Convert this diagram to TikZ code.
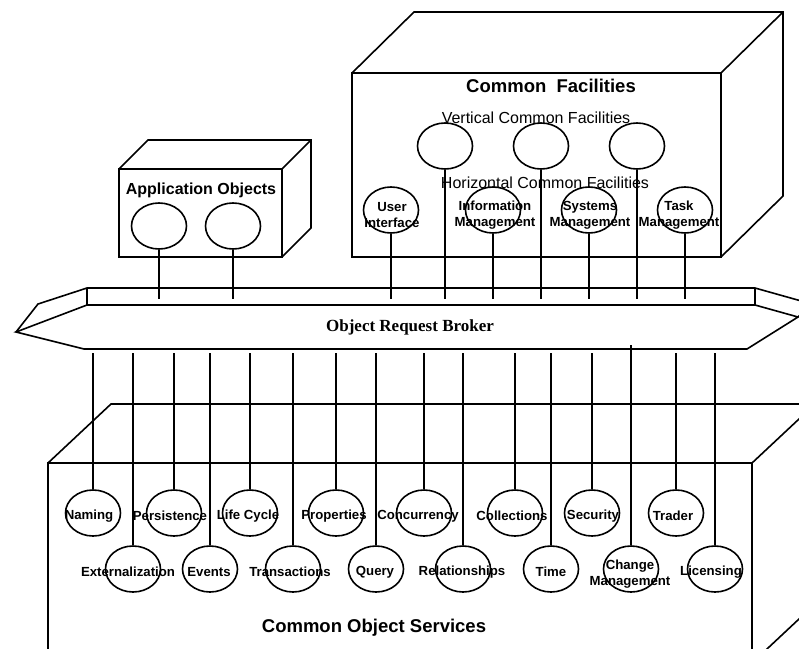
\documentclass[tikz,border=0pt]{standalone}
\usepackage{fontspec}
\setmainfont{Liberation Sans}
\newfontfamily\orbfont{Liberation Serif}
\usetikzlibrary{shapes, positioning, calc}

\begin{document}
\begin{tikzpicture}[x=1pt, y=-1pt]
	\tikzstyle{facebox}=[draw=black, line width=1.6, fill=none, inner sep=0, outer sep=0]
	\tikzstyle{obj}=[draw=black, ellipse, line width=1.6, minimum width=55, minimum height=46, inner sep=0]
	\tikzstyle{objtext}=[font=\fontsize{13.2}{16}\selectfont\bfseries, align=center, inner sep=0]
	\tikzstyle{title}=[font=\fontsize{18.5}{21}\selectfont\bfseries, inner sep=0]
	\tikzstyle{subtitle}=[font=\fontsize{16}{19}\selectfont, inner sep=0]
	\tikzstyle{wire}=[line width=1.6]

	\useasboundingbox (0,0) rectangle (799,648);
	\clip (0,0) rectangle (799,648);

	%% the three boxes
	\node (cf) at (536.5,165) [facebox, minimum width=369, minimum height=184] {};
	\draw [wire] (cf.north west) -- ++(62,-61) -- ++(369,0) -- ++(0,184) -- (cf.south east);
	\draw [wire] (cf.north east) -- ++(62,-61);

	\node (ao) at (200.5,213) [facebox, minimum width=163, minimum height=88] {};
	\draw [wire] (ao.north west) -- ++(29,-29) -- ++(163,0) -- ++(0,88) -- (ao.south east);
	\draw [wire] (ao.north east) -- ++(29,-29);

	\node (cos) at (400,563) [facebox, minimum width=704, minimum height=200] {};
	\draw [wire] (cos.north west) -- ++(63,-59) -- ++(704,0) -- ++(0,200) -- (cos.south east);
	\draw [wire] (cos.north east) -- ++(63,-59);

	%% the broker
	\draw [wire] (87,305) -- (755,305) -- (798,317) -- (747,349) -- (84,349) -- (16,332) -- cycle;
	\draw [wire] (16,332) -- (38,304) -- (87,288) -- (755,288) -- (812,304) -- (798,317);
	\draw [wire] (87,288) -- (87,305);
	\draw [wire] (755,288) -- (755,305);
	\node (orb) at (410,327) [font=\orbfont\fontsize{17}{20}\selectfont\bfseries] {Object Request Broker};
	\coordinate (orbtop) at (0,299);
	\coordinate (orbbot) at (0,353);
	\coordinate (orbmid) at (0,345);

	%% titles
	\node (cft) at (551,86) [title] {Common\ \ Facilities};
	\node (vcf) at (536,118) [subtitle] {Vertical Common Facilities};
	\node (hcf) at (545,183) [subtitle] {Horizontal Common Facilities};
	\node (aot) at (201,190) [title, font=\fontsize{16}{19}\selectfont\bfseries] {Application Objects};
	\node (cost) at (374,628) [title] {Common Object Services};

	%% application objects
	\node (ao1) at (159,226) [obj] {};
	\node (ao2) at (233,226) [obj] {};
	\draw [wire] (ao1.south) -- (ao1.south |- orbtop);
	\draw [wire] (ao2.south) -- (ao2.south |- orbtop);

	%% vertical facilities
	\node (v1) at (445,146) [obj] {};
	\node (v2) at (541,146) [obj] {};
	\node (v3) at (637,146) [obj] {};
	\draw [wire] (v1.south) -- (v1.south |- orbtop);
	\draw [wire] (v2.south) -- (v2.south |- orbtop);
	\draw [wire] (v3.south) -- (v3.south |- orbtop);

	%% horizontal facilities
	\node (ui) at (391,210) [obj] {};
	\node (im) at (493,210) [obj] {};
	\node (sm) at (589,210) [obj] {};
	\node (tm) at (685,210) [obj] {};
	\node (uit) at (ui) [objtext, xshift=1, yshift=-5] {User\\Interface};
	\node (imt) at (im) [objtext, xshift=2, yshift=-5] {Information\\Management};
	\node (smt) at (sm) [objtext, xshift=1, yshift=-5] {Systems\\Management};
	\node (tmt) at (tm) [objtext, xshift=-6, yshift=-5] {Task\\Management};
	\draw [wire] (ui.south) -- (ui.south |- orbtop);
	\draw [wire] (im.south) -- (im.south |- orbtop);
	\draw [wire] (sm.south) -- (sm.south |- orbtop);
	\draw [wire] (tm.south) -- (tm.south |- orbtop);

	%% object services, upper row
	\node (nam) at (93,513) [obj] {};
	\node (per) at (174,513) [obj] {};
	\node (lc) at (250,513) [obj] {};
	\node (prop) at (336,513) [obj] {};
	\node (conc) at (424,513) [obj] {};
	\node (coll) at (515,513) [obj] {};
	\node (sec) at (592,513) [obj] {};
	\node (tr) at (676,513) [obj] {};
	\node (namt) at (nam) [objtext, xshift=-4, yshift=-3] {Naming};
	\node (pert) at (per) [objtext, xshift=-4, yshift=-3] {Persistence};
	\node (lct) at (lc) [objtext, xshift=-2, yshift=-3] {Life Cycle};
	\node (propt) at (prop) [objtext, xshift=-2, yshift=-3] {Properties};
	\node (conct) at (conc) [objtext, xshift=-6, yshift=-3] {Concurrency};
	\node (collt) at (coll) [objtext, xshift=-3, yshift=-3] {Collections};
	\node (sect) at (sec) [objtext, xshift=1, yshift=-3] {Security};
	\node (trt) at (tr) [objtext, xshift=-3, yshift=-3] {Trader};
	\draw [wire] (nam.north) -- (nam.north |- orbbot);
	\draw [wire] (per.north) -- (per.north |- orbbot);
	\draw [wire] (lc.north) -- (lc.north |- orbbot);
	\draw [wire] (prop.north) -- (prop.north |- orbbot);
	\draw [wire] (conc.north) -- (conc.north |- orbbot);
	\draw [wire] (coll.north) -- (coll.north |- orbbot);
	\draw [wire] (sec.north) -- (sec.north |- orbbot);
	\draw [wire] (tr.north) -- (tr.north |- orbbot);

	%% object services, lower row
	\node (ext) at (133,569) [obj] {};
	\node (ev) at (210,569) [obj] {};
	\node (tra) at (293,569) [obj] {};
	\node (qry) at (376,569) [obj] {};
	\node (rel) at (463,569) [obj] {};
	\node (tim) at (551,569) [obj] {};
	\node (chg) at (631,569) [obj] {};
	\node (lic) at (715,569) [obj] {};
	\node (extt) at (ext) [objtext, xshift=-5, yshift=-3] {Externalization};
	\node (evt) at (ev) [objtext, xshift=-1, yshift=-3] {Events};
	\node (trat) at (tra) [objtext, xshift=-3, yshift=-3] {Transactions};
	\node (qryt) at (qry) [objtext, xshift=-1, yshift=-3] {Query};
	\node (relt) at (rel) [objtext, xshift=-1, yshift=-3] {Relationships};
	\node (timt) at (tim) [objtext, xshift=0, yshift=-3] {Time};
	\node (chgt) at (chg) [objtext, xshift=-1, yshift=-5] {Change\\Management};
	\node (lict) at (lic) [objtext, xshift=-4, yshift=-3] {Licensing};
	\draw [wire] (ext.north) -- (ext.north |- orbbot);
	\draw [wire] (ev.north) -- (ev.north |- orbbot);
	\draw [wire] (tra.north) -- (tra.north |- orbbot);
	\draw [wire] (qry.north) -- (qry.north |- orbbot);
	\draw [wire] (rel.north) -- (rel.north |- orbbot);
	\draw [wire] (tim.north) -- (tim.north |- orbbot);
	\draw [wire] (chg.north) -- (chg.north |- orbmid);
	\draw [wire] (lic.north) -- (lic.north |- orbbot);
\end{tikzpicture}
\end{document}
